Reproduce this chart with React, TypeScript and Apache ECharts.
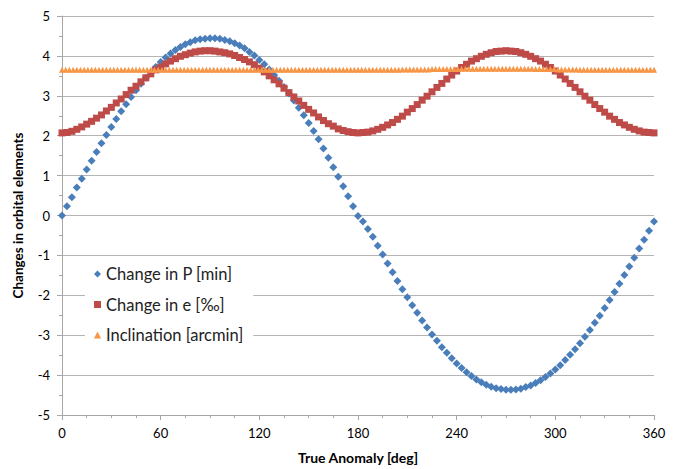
import React, { useEffect, useRef } from "react";
import * as echarts from "echarts";

// True anomaly (deg) for the P and e series
const anomalyDeg = [
  0, 3, 6, 9, 12, 15, 18, 21, 24, 27,
  30, 33, 36, 39, 42, 45, 48, 51, 54, 57,
  60, 63, 66, 69, 72, 75, 78, 81, 84, 87,
  90, 93, 96, 99, 102, 105, 108, 111, 114, 117,
  120, 123, 126, 129, 132, 135, 138, 141, 144, 147,
  150, 153, 156, 159, 162, 165, 168, 171, 174, 177,
  180, 183, 186, 189, 192, 195, 198, 201, 204, 207,
  210, 213, 216, 219, 222, 225, 228, 231, 234, 237,
  240, 243, 246, 249, 252, 255, 258, 261, 264, 267,
  270, 273, 276, 279, 282, 285, 288, 291, 294, 297,
  300, 303, 306, 309, 312, 315, 318, 321, 324, 327,
  330, 333, 336, 339, 342, 345, 348, 351, 354, 357,
  360,
];

// Change in P [min]
const changeP = [
  0, 0.23, 0.46, 0.7, 0.92, 1.15, 1.37, 1.59, 1.81, 2.02,
  2.22, 2.42, 2.61, 2.79, 2.97, 3.14, 3.3, 3.45, 3.59, 3.72,
  3.85, 3.96, 4.06, 4.15, 4.22, 4.29, 4.34, 4.39, 4.42, 4.43,
  4.44, 4.44, 4.43, 4.4, 4.37, 4.32, 4.26, 4.19, 4.1, 4.01,
  3.9, 3.79, 3.66, 3.52, 3.38, 3.22, 3.06, 2.88, 2.7, 2.51,
  2.32, 2.12, 1.91, 1.68, 1.45, 1.21, 0.97, 0.73, 0.48, 0.23,
  -0.01, -0.15, -0.34, -0.53, -0.76, -0.98, -1.2, -1.42, -1.64, -1.85,
  -2.05, -2.25, -2.44, -2.63, -2.81, -2.98, -3.14, -3.3, -3.44, -3.58,
  -3.71, -3.82, -3.93, -4.02, -4.11, -4.18, -4.24, -4.29, -4.33, -4.35,
  -4.37, -4.37, -4.36, -4.34, -4.3, -4.26, -4.2, -4.13, -4.05, -3.96,
  -3.86, -3.75, -3.62, -3.49, -3.35, -3.2, -3.04, -2.87, -2.69, -2.51,
  -2.32, -2.12, -1.92, -1.71, -1.49, -1.28, -1.06, -0.83, -0.61, -0.38,
  -0.15,
];

// Change in e [‰]
const changeE = [
  2.07, 2.08, 2.11, 2.16, 2.22, 2.29, 2.36, 2.44, 2.52, 2.62,
  2.71, 2.82, 2.92, 3.03, 3.14, 3.24, 3.35, 3.45, 3.55, 3.65,
  3.72, 3.8, 3.87, 3.93, 3.99, 4.03, 4.07, 4.1, 4.12, 4.13,
  4.13, 4.12, 4.1, 4.08, 4.05, 4.01, 3.96, 3.91, 3.85, 3.78,
  3.69, 3.6, 3.5, 3.4, 3.3, 3.19, 3.08, 2.97, 2.87, 2.76,
  2.66, 2.57, 2.47, 2.38, 2.3, 2.24, 2.17, 2.13, 2.1, 2.08,
  2.07, 2.08, 2.09, 2.12, 2.16, 2.21, 2.27, 2.33, 2.41, 2.49,
  2.59, 2.68, 2.78, 2.89, 2.99, 3.1, 3.21, 3.31, 3.42, 3.52,
  3.62, 3.71, 3.79, 3.87, 3.93, 3.99, 4.04, 4.08, 4.11, 4.12,
  4.13, 4.12, 4.11, 4.08, 4.04, 3.99, 3.93, 3.87, 3.79, 3.71,
  3.62, 3.52, 3.42, 3.31, 3.21, 3.1, 2.99, 2.89, 2.78, 2.68,
  2.59, 2.49, 2.41, 2.33, 2.27, 2.21, 2.16, 2.12, 2.09, 2.08,
  2.07,
];

// True anomaly (deg) for the inclination series
const inclinationDeg = [
  0, 2.25, 4.5, 6.75, 9, 11.25, 13.5, 15.75,
  18, 20.25, 22.5, 24.75, 27, 29.25, 31.5, 33.75,
  36, 38.25, 40.5, 42.75, 45, 47.25, 49.5, 51.75,
  54, 56.25, 58.5, 60.75, 63, 65.25, 67.5, 69.75,
  72, 74.25, 76.5, 78.75, 81, 83.25, 85.5, 87.75,
  90, 92.25, 94.5, 96.75, 99, 101.25, 103.5, 105.75,
  108, 110.25, 112.5, 114.75, 117, 119.25, 121.5, 123.75,
  126, 128.25, 130.5, 132.75, 135, 137.25, 139.5, 141.75,
  144, 146.25, 148.5, 150.75, 153, 155.25, 157.5, 159.75,
  162, 164.25, 166.5, 168.75, 171, 173.25, 175.5, 177.75,
  180, 182.25, 184.5, 186.75, 189, 191.25, 193.5, 195.75,
  198, 200.25, 202.5, 204.75, 207, 209.25, 211.5, 213.75,
  216, 218.25, 220.5, 222.75, 225, 227.25, 229.5, 231.75,
  234, 236.25, 238.5, 240.75, 243, 245.25, 247.5, 249.75,
  252, 254.25, 256.5, 258.75, 261, 263.25, 265.5, 267.75,
  270, 272.25, 274.5, 276.75, 279, 281.25, 283.5, 285.75,
  288, 290.25, 292.5, 294.75, 297, 299.25, 301.5, 303.75,
  306, 308.25, 310.5, 312.75, 315, 317.25, 319.5, 321.75,
  324, 326.25, 328.5, 330.75, 333, 335.25, 337.5, 339.75,
  342, 344.25, 346.5, 348.75, 351, 353.25, 355.5, 357.75,
  360,
];

// Inclination [arcmin]
const inclinationArcmin = [
  3.65, 3.65, 3.65, 3.65, 3.65, 3.65, 3.65, 3.65,
  3.65, 3.65, 3.65, 3.65, 3.65, 3.65, 3.65, 3.65,
  3.65, 3.65, 3.65, 3.65, 3.65, 3.65, 3.65, 3.65,
  3.65, 3.65, 3.65, 3.65, 3.65, 3.65, 3.65, 3.65,
  3.65, 3.65, 3.65, 3.65, 3.65, 3.65, 3.65, 3.65,
  3.65, 3.65, 3.65, 3.65, 3.65, 3.65, 3.65, 3.65,
  3.65, 3.65, 3.65, 3.65, 3.65, 3.65, 3.65, 3.65,
  3.65, 3.65, 3.65, 3.65, 3.65, 3.65, 3.65, 3.65,
  3.65, 3.65, 3.65, 3.65, 3.65, 3.65, 3.65, 3.65,
  3.65, 3.65, 3.65, 3.65, 3.65, 3.65, 3.65, 3.65,
  3.65, 3.65, 3.65, 3.65, 3.65, 3.65, 3.65, 3.65,
  3.65, 3.65, 3.65, 3.65, 3.66, 3.66, 3.66, 3.66,
  3.66, 3.66, 3.66, 3.66, 3.67, 3.67, 3.67, 3.67,
  3.67, 3.67, 3.67, 3.67, 3.68, 3.68, 3.68, 3.68,
  3.68, 3.68, 3.68, 3.68, 3.68, 3.68, 3.68, 3.68,
  3.68, 3.68, 3.68, 3.68, 3.68, 3.68, 3.68, 3.68,
  3.67, 3.67, 3.67, 3.67, 3.67, 3.67, 3.66, 3.66,
  3.66, 3.66, 3.66, 3.66, 3.65, 3.65, 3.65, 3.65,
  3.65, 3.65, 3.65, 3.65, 3.65, 3.65, 3.65, 3.65,
  3.65, 3.65, 3.65, 3.65, 3.65, 3.65, 3.65, 3.65,
  3.65,
];

const seriesNames = ["Change in P [min]", "Change in e [‰]", "Inclination [arcmin]"];
const seriesColors = ["#4a7ebb", "#be4b48", "#f79646"];

const FONT = "Lato, 'Open Sans', sans-serif";
const GRID_GRAY = "#b4b4b4";
const AXIS_GRAY = "#a6a6a6";

export default function App() {
  const ref = useRef<HTMLDivElement>(null);

  useEffect(() => {
    if (!ref.current) return;
    const chart = echarts.init(ref.current, null, { renderer: "svg" });

    const dataP = anomalyDeg.map((x, i) => [x, changeP[i]]);
    const dataE = anomalyDeg.map((x, i) => [x, changeE[i]]);
    const dataI = inclinationDeg.map((x, i) => [x, inclinationArcmin[i]]);

    chart.setOption({
      animation: false,
      backgroundColor: "#ffffff",
      textStyle: { fontFamily: FONT },
      grid: { left: 62, right: 21, top: 16, bottom: 50, containLabel: false },
      legend: {
        orient: "vertical",
        left: 85,
        top: 259,
        padding: [6, 10, 6, 9],
        backgroundColor: "#ffffff",
        itemWidth: 7,
        itemHeight: 7,
        itemGap: 12.5,
        textStyle: { fontFamily: FONT, fontSize: 16.5, color: "#222", lineHeight: 18 },
        data: [
          { name: seriesNames[0], icon: "diamond" },
          { name: seriesNames[1], icon: "rect" },
          { name: seriesNames[2], icon: "triangle" },
        ],
      },
      xAxis: {
        type: "value",
        min: 0,
        max: 360,
        interval: 60,
        name: "True Anomaly [deg]",
        nameLocation: "middle",
        nameGap: 35,
        nameTextStyle: { fontFamily: FONT, fontSize: 14, fontWeight: "bold", color: "#000" },
        axisLine: { show: true, onZero: false, lineStyle: { color: AXIS_GRAY, width: 1 } },
        axisTick: { show: true, length: 5, lineStyle: { color: AXIS_GRAY } },
        minorTick: { show: true, splitNumber: 4, length: 3, lineStyle: { color: AXIS_GRAY } },
        splitLine: { show: false },
        axisLabel: { fontFamily: FONT, fontSize: 13, color: "#000", margin: 11 },
      },
      yAxis: {
        type: "value",
        min: -5,
        max: 5,
        interval: 1,
        name: "Changes in orbital elements",
        nameLocation: "middle",
        nameRotate: 90,
        nameGap: 37,
        nameTextStyle: { fontFamily: FONT, fontSize: 13.5, fontWeight: "bold", color: "#000" },
        axisLine: { show: true, onZero: false, lineStyle: { color: AXIS_GRAY, width: 1 } },
        axisTick: { show: true, length: 5, lineStyle: { color: AXIS_GRAY } },
        minorTick: { show: true, splitNumber: 2, length: 3, lineStyle: { color: AXIS_GRAY } },
        splitLine: { show: true, lineStyle: { color: GRID_GRAY, width: 1 } },
        axisLabel: { fontFamily: FONT, fontSize: 13, color: "#000", margin: 12 },
      },
      series: [
        {
          name: seriesNames[0],
          type: "scatter",
          symbol: "diamond",
          symbolSize: 8,
          itemStyle: { color: seriesColors[0], opacity: 1 },
          data: dataP,
        },
        {
          name: seriesNames[1],
          type: "scatter",
          symbol: "rect",
          symbolSize: 7,
          itemStyle: { color: seriesColors[1], opacity: 1 },
          data: dataE,
        },
        {
          name: seriesNames[2],
          type: "scatter",
          symbol: "triangle",
          symbolSize: [6, 6],
          itemStyle: { color: seriesColors[2], opacity: 1 },
          data: dataI,
        },
      ],
    });

    return () => chart.dispose();
  }, []);

  return <div ref={ref} style={{ width: 675, height: 469, position: "absolute", left: 0, top: 0 }} />;
}
